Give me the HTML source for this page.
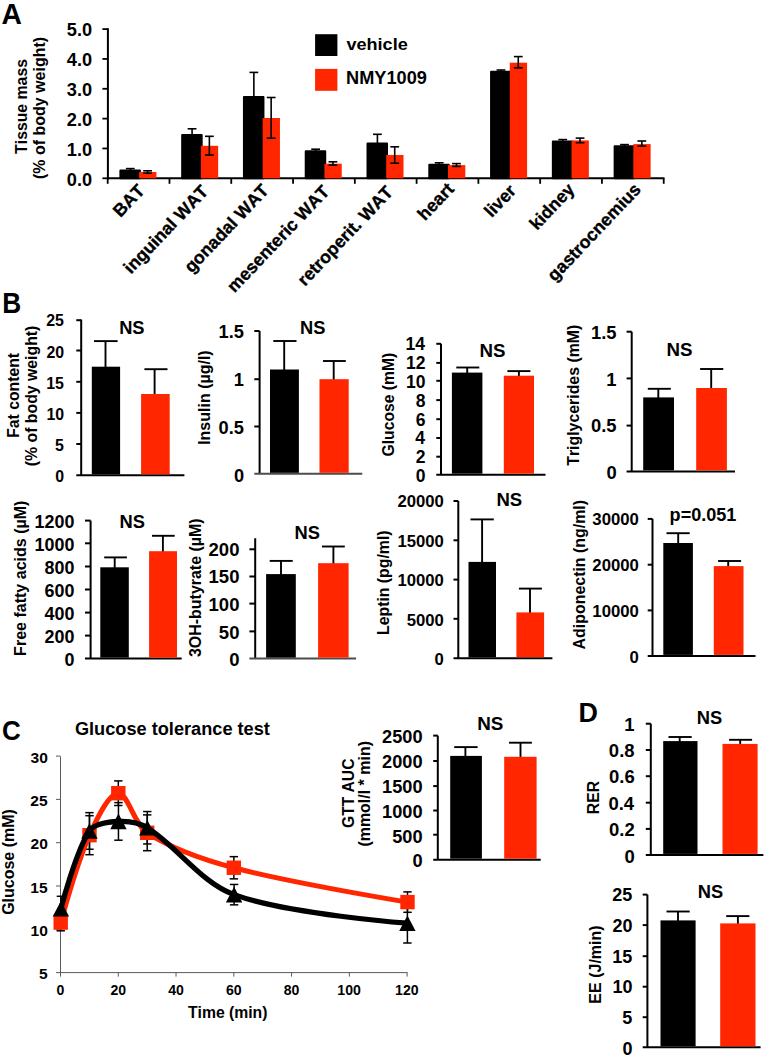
<!DOCTYPE html>
<html><head><meta charset="utf-8"><style>
html,body{margin:0;padding:0;background:#fff;}
svg{display:block;font-family:"Liberation Sans",sans-serif;font-weight:bold;font-kerning:none;}
</style></head><body>
<svg width="767" height="1059" viewBox="0 0 767 1059">
<text x="1.45" y="23.50" font-size="28.78" textLength="20.40" lengthAdjust="spacingAndGlyphs" fill="#000">A</text>
<line x1="107.90" y1="28.20" x2="107.90" y2="179.30" stroke="#000" stroke-width="2" stroke-linecap="butt"/>
<line x1="102.40" y1="178.30" x2="107.90" y2="178.30" stroke="#000" stroke-width="1.8" stroke-linecap="butt"/>
<line x1="102.40" y1="148.46" x2="107.90" y2="148.46" stroke="#000" stroke-width="1.8" stroke-linecap="butt"/>
<line x1="102.40" y1="118.62" x2="107.90" y2="118.62" stroke="#000" stroke-width="1.8" stroke-linecap="butt"/>
<line x1="102.40" y1="88.78" x2="107.90" y2="88.78" stroke="#000" stroke-width="1.8" stroke-linecap="butt"/>
<line x1="102.40" y1="58.94" x2="107.90" y2="58.94" stroke="#000" stroke-width="1.8" stroke-linecap="butt"/>
<line x1="102.40" y1="29.10" x2="107.90" y2="29.10" stroke="#000" stroke-width="1.8" stroke-linecap="butt"/>
<text x="66.84" y="35.92" font-size="18.20" fill="#000">5.0</text>
<text x="66.84" y="65.88" font-size="18.20" fill="#000">4.0</text>
<text x="66.84" y="95.82" font-size="18.20" fill="#000">3.0</text>
<text x="66.84" y="125.80" font-size="18.20" fill="#000">2.0</text>
<text x="66.84" y="155.76" font-size="18.20" fill="#000">1.0</text>
<text x="66.84" y="185.72" font-size="18.20" fill="#000">0.0</text>
<line x1="106.90" y1="178.30" x2="664.50" y2="178.30" stroke="#000" stroke-width="2" stroke-linecap="butt"/>
<line x1="107.70" y1="178.30" x2="107.70" y2="183.80" stroke="#000" stroke-width="1.8" stroke-linecap="butt"/>
<line x1="169.48" y1="178.30" x2="169.48" y2="183.80" stroke="#000" stroke-width="1.8" stroke-linecap="butt"/>
<line x1="231.26" y1="178.30" x2="231.26" y2="183.80" stroke="#000" stroke-width="1.8" stroke-linecap="butt"/>
<line x1="293.04" y1="178.30" x2="293.04" y2="183.80" stroke="#000" stroke-width="1.8" stroke-linecap="butt"/>
<line x1="354.82" y1="178.30" x2="354.82" y2="183.80" stroke="#000" stroke-width="1.8" stroke-linecap="butt"/>
<line x1="416.60" y1="178.30" x2="416.60" y2="183.80" stroke="#000" stroke-width="1.8" stroke-linecap="butt"/>
<line x1="478.38" y1="178.30" x2="478.38" y2="183.80" stroke="#000" stroke-width="1.8" stroke-linecap="butt"/>
<line x1="540.16" y1="178.30" x2="540.16" y2="183.80" stroke="#000" stroke-width="1.8" stroke-linecap="butt"/>
<line x1="601.94" y1="178.30" x2="601.94" y2="183.80" stroke="#000" stroke-width="1.8" stroke-linecap="butt"/>
<line x1="663.72" y1="178.30" x2="663.72" y2="183.80" stroke="#000" stroke-width="1.8" stroke-linecap="butt"/>
<rect x="120.39" y="170.40" width="19.50" height="7.90" fill="#000" stroke="#000" stroke-width="2" stroke-linejoin="round"/>
<line x1="130.29" y1="168.60" x2="130.29" y2="170.40" stroke="#000" stroke-width="1.6" stroke-linecap="butt"/>
<line x1="125.89" y1="168.60" x2="134.69" y2="168.60" stroke="#000" stroke-width="1.6" stroke-linecap="butt"/>
<rect x="139.09" y="172.00" width="17.30" height="6.30" fill="#ff2600"/>
<line x1="147.59" y1="170.80" x2="147.59" y2="173.20" stroke="#000" stroke-width="1.6" stroke-linecap="butt"/>
<line x1="143.19" y1="170.80" x2="151.99" y2="170.80" stroke="#000" stroke-width="1.6" stroke-linecap="butt"/>
<line x1="143.19" y1="173.20" x2="151.99" y2="173.20" stroke="#000" stroke-width="1.6" stroke-linecap="butt"/>
<rect x="182.17" y="135.10" width="19.50" height="43.20" fill="#000" stroke="#000" stroke-width="2" stroke-linejoin="round"/>
<line x1="192.07" y1="128.80" x2="192.07" y2="135.10" stroke="#000" stroke-width="1.6" stroke-linecap="butt"/>
<line x1="187.67" y1="128.80" x2="196.47" y2="128.80" stroke="#000" stroke-width="1.6" stroke-linecap="butt"/>
<rect x="200.87" y="145.80" width="17.30" height="32.50" fill="#ff2600"/>
<line x1="209.37" y1="136.30" x2="209.37" y2="155.00" stroke="#000" stroke-width="1.6" stroke-linecap="butt"/>
<line x1="204.97" y1="136.30" x2="213.77" y2="136.30" stroke="#000" stroke-width="1.6" stroke-linecap="butt"/>
<line x1="204.97" y1="155.00" x2="213.77" y2="155.00" stroke="#000" stroke-width="1.6" stroke-linecap="butt"/>
<rect x="243.95" y="96.90" width="19.50" height="81.40" fill="#000" stroke="#000" stroke-width="2" stroke-linejoin="round"/>
<line x1="253.85" y1="72.40" x2="253.85" y2="96.90" stroke="#000" stroke-width="1.6" stroke-linecap="butt"/>
<line x1="249.45" y1="72.40" x2="258.25" y2="72.40" stroke="#000" stroke-width="1.6" stroke-linecap="butt"/>
<rect x="262.65" y="118.00" width="17.30" height="60.30" fill="#ff2600"/>
<line x1="271.15" y1="97.50" x2="271.15" y2="138.20" stroke="#000" stroke-width="1.6" stroke-linecap="butt"/>
<line x1="266.75" y1="97.50" x2="275.55" y2="97.50" stroke="#000" stroke-width="1.6" stroke-linecap="butt"/>
<line x1="266.75" y1="138.20" x2="275.55" y2="138.20" stroke="#000" stroke-width="1.6" stroke-linecap="butt"/>
<rect x="305.73" y="151.30" width="19.50" height="27.00" fill="#000" stroke="#000" stroke-width="2" stroke-linejoin="round"/>
<line x1="315.63" y1="149.20" x2="315.63" y2="151.30" stroke="#000" stroke-width="1.6" stroke-linecap="butt"/>
<line x1="311.23" y1="149.20" x2="320.03" y2="149.20" stroke="#000" stroke-width="1.6" stroke-linecap="butt"/>
<rect x="324.43" y="163.70" width="17.30" height="14.60" fill="#ff2600"/>
<line x1="332.93" y1="161.80" x2="332.93" y2="165.10" stroke="#000" stroke-width="1.6" stroke-linecap="butt"/>
<line x1="328.53" y1="161.80" x2="337.33" y2="161.80" stroke="#000" stroke-width="1.6" stroke-linecap="butt"/>
<line x1="328.53" y1="165.10" x2="337.33" y2="165.10" stroke="#000" stroke-width="1.6" stroke-linecap="butt"/>
<rect x="367.51" y="143.60" width="19.50" height="34.70" fill="#000" stroke="#000" stroke-width="2" stroke-linejoin="round"/>
<line x1="377.41" y1="134.30" x2="377.41" y2="143.60" stroke="#000" stroke-width="1.6" stroke-linecap="butt"/>
<line x1="373.01" y1="134.30" x2="381.81" y2="134.30" stroke="#000" stroke-width="1.6" stroke-linecap="butt"/>
<rect x="386.21" y="155.00" width="17.30" height="23.30" fill="#ff2600"/>
<line x1="394.71" y1="146.80" x2="394.71" y2="163.20" stroke="#000" stroke-width="1.6" stroke-linecap="butt"/>
<line x1="390.31" y1="146.80" x2="399.11" y2="146.80" stroke="#000" stroke-width="1.6" stroke-linecap="butt"/>
<line x1="390.31" y1="163.20" x2="399.11" y2="163.20" stroke="#000" stroke-width="1.6" stroke-linecap="butt"/>
<rect x="429.29" y="164.70" width="19.50" height="13.60" fill="#000" stroke="#000" stroke-width="2" stroke-linejoin="round"/>
<line x1="439.19" y1="162.80" x2="439.19" y2="164.70" stroke="#000" stroke-width="1.6" stroke-linecap="butt"/>
<line x1="434.79" y1="162.80" x2="443.59" y2="162.80" stroke="#000" stroke-width="1.6" stroke-linecap="butt"/>
<rect x="447.99" y="165.10" width="17.30" height="13.20" fill="#ff2600"/>
<line x1="456.49" y1="163.60" x2="456.49" y2="166.40" stroke="#000" stroke-width="1.6" stroke-linecap="butt"/>
<line x1="452.09" y1="163.60" x2="460.89" y2="163.60" stroke="#000" stroke-width="1.6" stroke-linecap="butt"/>
<line x1="452.09" y1="166.40" x2="460.89" y2="166.40" stroke="#000" stroke-width="1.6" stroke-linecap="butt"/>
<rect x="491.07" y="71.70" width="19.50" height="106.60" fill="#000" stroke="#000" stroke-width="2" stroke-linejoin="round"/>
<line x1="500.97" y1="70.00" x2="500.97" y2="71.70" stroke="#000" stroke-width="1.6" stroke-linecap="butt"/>
<line x1="496.57" y1="70.00" x2="505.37" y2="70.00" stroke="#000" stroke-width="1.6" stroke-linecap="butt"/>
<rect x="509.77" y="62.70" width="17.30" height="115.60" fill="#ff2600"/>
<line x1="518.27" y1="56.60" x2="518.27" y2="67.80" stroke="#000" stroke-width="1.6" stroke-linecap="butt"/>
<line x1="513.87" y1="56.60" x2="522.67" y2="56.60" stroke="#000" stroke-width="1.6" stroke-linecap="butt"/>
<line x1="513.87" y1="67.80" x2="522.67" y2="67.80" stroke="#000" stroke-width="1.6" stroke-linecap="butt"/>
<rect x="552.85" y="141.40" width="19.50" height="36.90" fill="#000" stroke="#000" stroke-width="2" stroke-linejoin="round"/>
<line x1="562.75" y1="139.60" x2="562.75" y2="141.40" stroke="#000" stroke-width="1.6" stroke-linecap="butt"/>
<line x1="558.35" y1="139.60" x2="567.15" y2="139.60" stroke="#000" stroke-width="1.6" stroke-linecap="butt"/>
<rect x="571.55" y="140.40" width="17.30" height="37.90" fill="#ff2600"/>
<line x1="580.05" y1="138.10" x2="580.05" y2="142.70" stroke="#000" stroke-width="1.6" stroke-linecap="butt"/>
<line x1="575.65" y1="138.10" x2="584.45" y2="138.10" stroke="#000" stroke-width="1.6" stroke-linecap="butt"/>
<line x1="575.65" y1="142.70" x2="584.45" y2="142.70" stroke="#000" stroke-width="1.6" stroke-linecap="butt"/>
<rect x="614.63" y="146.30" width="19.50" height="32.00" fill="#000" stroke="#000" stroke-width="2" stroke-linejoin="round"/>
<line x1="624.53" y1="144.60" x2="624.53" y2="146.30" stroke="#000" stroke-width="1.6" stroke-linecap="butt"/>
<line x1="620.13" y1="144.60" x2="628.93" y2="144.60" stroke="#000" stroke-width="1.6" stroke-linecap="butt"/>
<rect x="633.33" y="144.10" width="17.30" height="34.20" fill="#ff2600"/>
<line x1="641.83" y1="141.00" x2="641.83" y2="146.10" stroke="#000" stroke-width="1.6" stroke-linecap="butt"/>
<line x1="637.43" y1="141.00" x2="646.23" y2="141.00" stroke="#000" stroke-width="1.6" stroke-linecap="butt"/>
<line x1="637.43" y1="146.10" x2="646.23" y2="146.10" stroke="#000" stroke-width="1.6" stroke-linecap="butt"/>
<rect x="315.10" y="34.20" width="22.30" height="21.80" fill="#000"/>
<rect x="315.10" y="68.90" width="22.30" height="21.90" fill="#ff2600"/>
<text x="346.43" y="49.54" font-size="16.89" textLength="61.29" lengthAdjust="spacingAndGlyphs" fill="#000">vehicle</text>
<text x="346.08" y="84.43" font-size="17.51" textLength="80.79" lengthAdjust="spacingAndGlyphs" fill="#000">NMY1009</text>
<text x="26.85" y="153.88" font-size="15.81" transform="rotate(-90 26.85 153.88)" fill="#000">Tissue mass</text>
<text x="44.65" y="179.00" font-size="15.99" transform="rotate(-90 44.65 179.00)" fill="#000">(% of body weight)</text>
<text x="145.69" y="191.60" font-size="17.8" text-anchor="end" stroke="#000" stroke-width="0.35" transform="rotate(-46.5 145.69 191.60)">BAT</text>
<text x="209.27" y="192.30" font-size="17.8" text-anchor="end" stroke="#000" stroke-width="0.35" transform="rotate(-46.5 209.27 192.30)">inguinal WAT</text>
<text x="269.85" y="191.40" font-size="17.8" text-anchor="end" stroke="#000" stroke-width="0.35" transform="rotate(-46.5 269.85 191.40)">gonadal WAT</text>
<text x="330.43" y="192.50" font-size="17.8" text-anchor="end" stroke="#000" stroke-width="0.35" transform="rotate(-46.5 330.43 192.50)">mesenteric WAT</text>
<text x="394.01" y="193.00" font-size="17.8" text-anchor="end" stroke="#000" stroke-width="0.35" transform="rotate(-46.5 394.01 193.00)">retroperit. WAT</text>
<text x="454.99" y="189.90" font-size="17.8" text-anchor="end" stroke="#000" stroke-width="0.35" transform="rotate(-46.5 454.99 189.90)">heart</text>
<text x="516.97" y="191.70" font-size="17.8" text-anchor="end" stroke="#000" stroke-width="0.35" transform="rotate(-46.5 516.97 191.70)">liver</text>
<text x="575.70" y="190.20" font-size="17.8" text-anchor="end" stroke="#000" stroke-width="0.35" transform="rotate(-46.5 575.70 190.20)">kidney</text>
<text x="641.93" y="190.40" font-size="17.8" text-anchor="end" stroke="#000" stroke-width="0.35" transform="rotate(-46.5 641.93 190.40)">gastrocnemius</text>
<text x="2.34" y="312.70" font-size="28.78" textLength="18.95" lengthAdjust="spacingAndGlyphs" fill="#000">B</text>
<line x1="81.20" y1="319.60" x2="81.20" y2="475.30" stroke="#000" stroke-width="2.0" stroke-linecap="butt"/>
<line x1="76.30" y1="320.20" x2="81.20" y2="320.20" stroke="#000" stroke-width="2.0" stroke-linecap="butt"/>
<line x1="76.30" y1="350.50" x2="81.20" y2="350.50" stroke="#000" stroke-width="2.0" stroke-linecap="butt"/>
<line x1="76.30" y1="381.80" x2="81.20" y2="381.80" stroke="#000" stroke-width="2.0" stroke-linecap="butt"/>
<line x1="76.30" y1="412.90" x2="81.20" y2="412.90" stroke="#000" stroke-width="2.0" stroke-linecap="butt"/>
<line x1="76.30" y1="444.00" x2="81.20" y2="444.00" stroke="#000" stroke-width="2.0" stroke-linecap="butt"/>
<line x1="76.30" y1="475.30" x2="184.40" y2="475.30" stroke="#000" stroke-width="2.0" stroke-linecap="butt"/>
<line x1="105.50" y1="341.10" x2="105.50" y2="367.70" stroke="#000" stroke-width="1.9" stroke-linecap="butt"/>
<line x1="94.00" y1="341.10" x2="117.60" y2="341.10" stroke="#000" stroke-width="1.9" stroke-linecap="butt"/>
<line x1="154.60" y1="369.20" x2="154.60" y2="395.00" stroke="#000" stroke-width="1.9" stroke-linecap="butt"/>
<line x1="144.40" y1="369.20" x2="167.50" y2="369.20" stroke="#000" stroke-width="1.9" stroke-linecap="butt"/>
<rect x="91.80" y="366.70" width="28.30" height="107.60" fill="#000"/>
<rect x="141.10" y="394.00" width="28.60" height="80.30" fill="#ff2600"/>
<text x="46.25" y="326.33" font-size="15.91" fill="#000">25</text>
<text x="46.46" y="357.56" font-size="15.91" fill="#000">20</text>
<text x="46.25" y="388.70" font-size="15.91" fill="#000">15</text>
<text x="46.46" y="420.02" font-size="15.91" fill="#000">10</text>
<text x="55.10" y="451.16" font-size="15.91" fill="#000">5</text>
<text x="55.31" y="482.48" font-size="15.91" fill="#000">0</text>
<text x="119.17" y="333.80" font-size="18.31" fill="#000">NS</text>
<text x="18.60" y="437.85" font-size="15.75" transform="rotate(-90 18.60 437.85)" fill="#000">Fat content</text>
<text x="36.90" y="466.19" font-size="15.82" transform="rotate(-90 36.90 466.19)" fill="#000">(% of body weight)</text>
<line x1="259.60" y1="331.00" x2="259.60" y2="473.80" stroke="#000" stroke-width="2.0" stroke-linecap="butt"/>
<line x1="254.30" y1="331.00" x2="259.60" y2="331.00" stroke="#000" stroke-width="2.0" stroke-linecap="butt"/>
<line x1="254.30" y1="379.20" x2="259.60" y2="379.20" stroke="#000" stroke-width="2.0" stroke-linecap="butt"/>
<line x1="254.30" y1="426.50" x2="259.60" y2="426.50" stroke="#000" stroke-width="2.0" stroke-linecap="butt"/>
<line x1="254.30" y1="473.80" x2="362.30" y2="473.80" stroke="#4d4d4d" stroke-width="2.0" stroke-linecap="butt"/>
<line x1="284.20" y1="341.00" x2="284.20" y2="370.50" stroke="#000" stroke-width="1.9" stroke-linecap="butt"/>
<line x1="273.30" y1="341.00" x2="296.50" y2="341.00" stroke="#000" stroke-width="1.9" stroke-linecap="butt"/>
<line x1="333.70" y1="361.00" x2="333.70" y2="380.20" stroke="#000" stroke-width="1.9" stroke-linecap="butt"/>
<line x1="323.00" y1="361.00" x2="345.80" y2="361.00" stroke="#000" stroke-width="1.9" stroke-linecap="butt"/>
<rect x="270.00" y="369.50" width="28.90" height="103.30" fill="#000"/>
<rect x="319.50" y="379.20" width="29.20" height="93.60" fill="#ff2600"/>
<text x="218.55" y="338.09" font-size="18.24" fill="#000">1.5</text>
<text x="233.76" y="385.97" font-size="18.24" fill="#000">1</text>
<text x="218.55" y="433.78" font-size="18.24" fill="#000">0.5</text>
<text x="234.00" y="481.58" font-size="18.24" fill="#000">0</text>
<text x="300.07" y="333.50" font-size="18.31" fill="#000">NS</text>
<text x="210.00" y="444.87" font-size="16.00" transform="rotate(-90 210.00 444.87)" fill="#000">Insulin (µg/l)</text>
<line x1="441.00" y1="343.80" x2="441.00" y2="474.70" stroke="#000" stroke-width="2.0" stroke-linecap="butt"/>
<line x1="436.30" y1="343.80" x2="441.00" y2="343.80" stroke="#000" stroke-width="2.0" stroke-linecap="butt"/>
<line x1="436.30" y1="362.90" x2="441.00" y2="362.90" stroke="#000" stroke-width="2.0" stroke-linecap="butt"/>
<line x1="436.30" y1="380.80" x2="441.00" y2="380.80" stroke="#000" stroke-width="2.0" stroke-linecap="butt"/>
<line x1="436.30" y1="400.10" x2="441.00" y2="400.10" stroke="#000" stroke-width="2.0" stroke-linecap="butt"/>
<line x1="436.30" y1="419.20" x2="441.00" y2="419.20" stroke="#000" stroke-width="2.0" stroke-linecap="butt"/>
<line x1="436.30" y1="438.00" x2="441.00" y2="438.00" stroke="#000" stroke-width="2.0" stroke-linecap="butt"/>
<line x1="436.30" y1="456.70" x2="441.00" y2="456.70" stroke="#000" stroke-width="2.0" stroke-linecap="butt"/>
<line x1="436.30" y1="474.70" x2="545.50" y2="474.70" stroke="#000" stroke-width="2.0" stroke-linecap="butt"/>
<line x1="467.20" y1="367.50" x2="467.20" y2="373.60" stroke="#000" stroke-width="1.9" stroke-linecap="butt"/>
<line x1="456.30" y1="367.50" x2="479.30" y2="367.50" stroke="#000" stroke-width="1.9" stroke-linecap="butt"/>
<line x1="518.90" y1="371.10" x2="518.90" y2="376.70" stroke="#000" stroke-width="1.9" stroke-linecap="butt"/>
<line x1="507.40" y1="371.10" x2="530.40" y2="371.10" stroke="#000" stroke-width="1.9" stroke-linecap="butt"/>
<rect x="451.90" y="372.60" width="30.50" height="101.10" fill="#000"/>
<rect x="503.80" y="375.70" width="30.20" height="98.00" fill="#ff2600"/>
<text x="405.50" y="350.38" font-size="17.53" fill="#000">14</text>
<text x="406.10" y="369.29" font-size="17.53" fill="#000">12</text>
<text x="406.12" y="388.03" font-size="17.53" fill="#000">10</text>
<text x="415.69" y="406.85" font-size="17.53" fill="#000">8</text>
<text x="415.78" y="425.67" font-size="17.53" fill="#000">6</text>
<text x="415.24" y="444.49" font-size="17.53" fill="#000">4</text>
<text x="415.85" y="463.40" font-size="17.53" fill="#000">2</text>
<text x="415.87" y="482.13" font-size="17.53" fill="#000">0</text>
<text x="479.55" y="356.64" font-size="18.70" fill="#000">NS</text>
<text x="393.90" y="456.44" font-size="15.70" transform="rotate(-90 393.90 456.44)" fill="#000">Glucose (mM)</text>
<line x1="631.70" y1="331.70" x2="631.70" y2="471.40" stroke="#000" stroke-width="2.0" stroke-linecap="butt"/>
<line x1="626.60" y1="331.70" x2="631.70" y2="331.70" stroke="#000" stroke-width="2.0" stroke-linecap="butt"/>
<line x1="626.60" y1="378.40" x2="631.70" y2="378.40" stroke="#000" stroke-width="2.0" stroke-linecap="butt"/>
<line x1="626.60" y1="425.60" x2="631.70" y2="425.60" stroke="#000" stroke-width="2.0" stroke-linecap="butt"/>
<line x1="626.60" y1="471.40" x2="735.00" y2="471.40" stroke="#000" stroke-width="2.0" stroke-linecap="butt"/>
<line x1="658.30" y1="388.80" x2="658.30" y2="398.40" stroke="#000" stroke-width="1.9" stroke-linecap="butt"/>
<line x1="647.80" y1="388.80" x2="670.80" y2="388.80" stroke="#000" stroke-width="1.9" stroke-linecap="butt"/>
<line x1="711.20" y1="369.00" x2="711.20" y2="389.00" stroke="#000" stroke-width="1.9" stroke-linecap="butt"/>
<line x1="700.10" y1="369.00" x2="723.30" y2="369.00" stroke="#000" stroke-width="1.9" stroke-linecap="butt"/>
<rect x="643.20" y="397.40" width="30.80" height="73.00" fill="#000"/>
<rect x="696.20" y="388.00" width="30.70" height="82.40" fill="#ff2600"/>
<text x="590.94" y="338.74" font-size="18.39" fill="#000">1.5</text>
<text x="606.28" y="385.59" font-size="18.39" fill="#000">1</text>
<text x="590.94" y="432.37" font-size="18.39" fill="#000">0.5</text>
<text x="606.52" y="479.13" font-size="18.39" fill="#000">0</text>
<text x="666.60" y="355.99" font-size="18.70" fill="#000">NS</text>
<text x="579.20" y="465.78" font-size="15.88" transform="rotate(-90 579.20 465.78)" fill="#000">Triglycerides (mM)</text>
<line x1="90.60" y1="520.60" x2="90.60" y2="658.60" stroke="#000" stroke-width="2.0" stroke-linecap="butt"/>
<line x1="85.00" y1="520.60" x2="90.60" y2="520.60" stroke="#000" stroke-width="2.0" stroke-linecap="butt"/>
<line x1="85.00" y1="543.30" x2="90.60" y2="543.30" stroke="#000" stroke-width="2.0" stroke-linecap="butt"/>
<line x1="85.00" y1="566.50" x2="90.60" y2="566.50" stroke="#000" stroke-width="2.0" stroke-linecap="butt"/>
<line x1="85.00" y1="589.50" x2="90.60" y2="589.50" stroke="#000" stroke-width="2.0" stroke-linecap="butt"/>
<line x1="85.00" y1="612.60" x2="90.60" y2="612.60" stroke="#000" stroke-width="2.0" stroke-linecap="butt"/>
<line x1="85.00" y1="635.60" x2="90.60" y2="635.60" stroke="#000" stroke-width="2.0" stroke-linecap="butt"/>
<line x1="85.00" y1="658.60" x2="181.70" y2="658.60" stroke="#000" stroke-width="2.0" stroke-linecap="butt"/>
<line x1="114.70" y1="557.40" x2="114.70" y2="568.30" stroke="#000" stroke-width="1.9" stroke-linecap="butt"/>
<line x1="104.20" y1="557.40" x2="126.90" y2="557.40" stroke="#000" stroke-width="1.9" stroke-linecap="butt"/>
<line x1="162.90" y1="535.80" x2="162.90" y2="552.20" stroke="#000" stroke-width="1.9" stroke-linecap="butt"/>
<line x1="152.00" y1="535.80" x2="174.70" y2="535.80" stroke="#000" stroke-width="1.9" stroke-linecap="butt"/>
<rect x="100.30" y="567.30" width="28.50" height="90.30" fill="#000"/>
<rect x="149.10" y="551.20" width="27.90" height="106.40" fill="#ff2600"/>
<text x="34.57" y="527.57" font-size="17.92" fill="#000">1200</text>
<text x="34.57" y="550.67" font-size="17.92" fill="#000">1000</text>
<text x="44.54" y="573.77" font-size="17.92" fill="#000">800</text>
<text x="44.54" y="596.87" font-size="17.92" fill="#000">600</text>
<text x="44.54" y="619.97" font-size="17.92" fill="#000">400</text>
<text x="44.54" y="643.07" font-size="17.92" fill="#000">200</text>
<text x="64.47" y="666.17" font-size="17.92" fill="#000">0</text>
<text x="119.57" y="527.80" font-size="18.31" fill="#000">NS</text>
<text x="25.60" y="655.87" font-size="16.04" transform="rotate(-90 25.60 655.87)" fill="#000">Free fatty acids (µM)</text>
<line x1="255.20" y1="538.20" x2="255.20" y2="658.60" stroke="#000" stroke-width="2.0" stroke-linecap="butt"/>
<line x1="249.40" y1="549.30" x2="255.20" y2="549.30" stroke="#000" stroke-width="2.0" stroke-linecap="butt"/>
<line x1="249.40" y1="576.50" x2="255.20" y2="576.50" stroke="#000" stroke-width="2.0" stroke-linecap="butt"/>
<line x1="249.40" y1="603.60" x2="255.20" y2="603.60" stroke="#000" stroke-width="2.0" stroke-linecap="butt"/>
<line x1="249.40" y1="631.40" x2="255.20" y2="631.40" stroke="#000" stroke-width="2.0" stroke-linecap="butt"/>
<line x1="249.40" y1="658.60" x2="356.10" y2="658.60" stroke="#4d4d4d" stroke-width="2.0" stroke-linecap="butt"/>
<line x1="281.00" y1="560.90" x2="281.00" y2="575.10" stroke="#000" stroke-width="1.9" stroke-linecap="butt"/>
<line x1="269.70" y1="560.90" x2="292.70" y2="560.90" stroke="#000" stroke-width="1.9" stroke-linecap="butt"/>
<line x1="333.40" y1="546.50" x2="333.40" y2="564.20" stroke="#000" stroke-width="1.9" stroke-linecap="butt"/>
<line x1="322.00" y1="546.50" x2="344.80" y2="546.50" stroke="#000" stroke-width="1.9" stroke-linecap="butt"/>
<rect x="266.10" y="574.10" width="29.70" height="83.50" fill="#000"/>
<rect x="318.10" y="563.20" width="30.50" height="94.40" fill="#ff2600"/>
<text x="208.56" y="555.63" font-size="18.52" fill="#000">200</text>
<text x="208.56" y="583.31" font-size="18.52" fill="#000">150</text>
<text x="208.56" y="611.00" font-size="18.52" fill="#000">100</text>
<text x="218.86" y="638.69" font-size="18.52" fill="#000">50</text>
<text x="229.16" y="666.38" font-size="18.52" fill="#000">0</text>
<text x="294.57" y="538.75" font-size="18.31" fill="#000">NS</text>
<text x="200.98" y="657.07" font-size="15.97" transform="rotate(-90 200.98 657.07)" fill="#000">3OH-butyrate (µM)</text>
<line x1="458.30" y1="501.00" x2="458.30" y2="658.30" stroke="#000" stroke-width="2.0" stroke-linecap="butt"/>
<line x1="453.50" y1="501.00" x2="458.30" y2="501.00" stroke="#000" stroke-width="2.0" stroke-linecap="butt"/>
<line x1="453.50" y1="540.30" x2="458.30" y2="540.30" stroke="#000" stroke-width="2.0" stroke-linecap="butt"/>
<line x1="453.50" y1="579.60" x2="458.30" y2="579.60" stroke="#000" stroke-width="2.0" stroke-linecap="butt"/>
<line x1="453.50" y1="618.80" x2="458.30" y2="618.80" stroke="#000" stroke-width="2.0" stroke-linecap="butt"/>
<line x1="453.50" y1="658.30" x2="552.40" y2="658.30" stroke="#000" stroke-width="2.0" stroke-linecap="butt"/>
<line x1="482.10" y1="519.40" x2="482.10" y2="562.90" stroke="#000" stroke-width="1.9" stroke-linecap="butt"/>
<line x1="470.50" y1="519.40" x2="493.80" y2="519.40" stroke="#000" stroke-width="1.9" stroke-linecap="butt"/>
<line x1="530.00" y1="588.60" x2="530.00" y2="613.40" stroke="#000" stroke-width="1.9" stroke-linecap="butt"/>
<line x1="518.90" y1="588.60" x2="541.90" y2="588.60" stroke="#000" stroke-width="1.9" stroke-linecap="butt"/>
<rect x="468.50" y="561.90" width="27.50" height="95.40" fill="#000"/>
<rect x="516.40" y="612.40" width="27.70" height="44.90" fill="#ff2600"/>
<text x="397.42" y="507.15" font-size="16.71" fill="#000">20000</text>
<text x="397.42" y="546.73" font-size="16.71" fill="#000">15000</text>
<text x="397.42" y="586.30" font-size="16.71" fill="#000">10000</text>
<text x="406.71" y="625.88" font-size="16.71" fill="#000">5000</text>
<text x="434.59" y="665.45" font-size="16.71" fill="#000">0</text>
<text x="496.46" y="506.43" font-size="18.55" fill="#000">NS</text>
<text x="389.20" y="634.96" font-size="15.82" transform="rotate(-90 389.20 634.96)" fill="#000">Leptin (pg/ml)</text>
<line x1="652.50" y1="518.90" x2="652.50" y2="655.90" stroke="#000" stroke-width="2.0" stroke-linecap="butt"/>
<line x1="647.70" y1="518.90" x2="652.50" y2="518.90" stroke="#000" stroke-width="2.0" stroke-linecap="butt"/>
<line x1="647.70" y1="564.70" x2="652.50" y2="564.70" stroke="#000" stroke-width="2.0" stroke-linecap="butt"/>
<line x1="647.70" y1="610.40" x2="652.50" y2="610.40" stroke="#000" stroke-width="2.0" stroke-linecap="butt"/>
<line x1="647.70" y1="655.90" x2="755.50" y2="655.90" stroke="#000" stroke-width="2.0" stroke-linecap="butt"/>
<line x1="678.20" y1="533.20" x2="678.20" y2="544.00" stroke="#000" stroke-width="1.9" stroke-linecap="butt"/>
<line x1="666.50" y1="533.20" x2="689.70" y2="533.20" stroke="#000" stroke-width="1.9" stroke-linecap="butt"/>
<line x1="728.20" y1="561.00" x2="728.20" y2="567.10" stroke="#000" stroke-width="1.9" stroke-linecap="butt"/>
<line x1="718.10" y1="561.00" x2="741.10" y2="561.00" stroke="#000" stroke-width="1.9" stroke-linecap="butt"/>
<rect x="663.30" y="543.00" width="29.60" height="111.90" fill="#000"/>
<rect x="713.80" y="566.10" width="29.70" height="88.80" fill="#ff2600"/>
<text x="592.32" y="525.05" font-size="16.75" fill="#000">30000</text>
<text x="592.32" y="571.07" font-size="16.75" fill="#000">20000</text>
<text x="592.32" y="617.07" font-size="16.75" fill="#000">10000</text>
<text x="629.57" y="663.07" font-size="16.75" fill="#000">0</text>
<text x="669.61" y="520.70" font-size="18.07" fill="#000">p=0.051</text>
<text x="585.00" y="649.40" font-size="15.93" transform="rotate(-90 585.00 649.40)" fill="#000">Adiponectin (ng/ml)</text>
<text x="2.03" y="739.73" font-size="28.11" textLength="18.78" lengthAdjust="spacingAndGlyphs" fill="#000">C</text>
<text x="74.95" y="734.50" font-size="18.18" fill="#000">Glucose tolerance test</text>
<line x1="60.50" y1="756.50" x2="60.50" y2="976.60" stroke="#595959" stroke-width="1" stroke-linecap="butt"/>
<line x1="56.00" y1="972.60" x2="407.60" y2="972.60" stroke="#595959" stroke-width="1" stroke-linecap="butt"/>
<line x1="56.00" y1="929.30" x2="60.50" y2="929.30" stroke="#595959" stroke-width="1" stroke-linecap="butt"/>
<line x1="56.00" y1="886.00" x2="60.50" y2="886.00" stroke="#595959" stroke-width="1" stroke-linecap="butt"/>
<line x1="56.00" y1="842.70" x2="60.50" y2="842.70" stroke="#595959" stroke-width="1" stroke-linecap="butt"/>
<line x1="56.00" y1="799.40" x2="60.50" y2="799.40" stroke="#595959" stroke-width="1" stroke-linecap="butt"/>
<line x1="56.00" y1="756.10" x2="60.50" y2="756.10" stroke="#595959" stroke-width="1" stroke-linecap="butt"/>
<line x1="118.27" y1="972.60" x2="118.27" y2="976.60" stroke="#595959" stroke-width="1" stroke-linecap="butt"/>
<line x1="176.03" y1="972.60" x2="176.03" y2="976.60" stroke="#595959" stroke-width="1" stroke-linecap="butt"/>
<line x1="233.80" y1="972.60" x2="233.80" y2="976.60" stroke="#595959" stroke-width="1" stroke-linecap="butt"/>
<line x1="291.56" y1="972.60" x2="291.56" y2="976.60" stroke="#595959" stroke-width="1" stroke-linecap="butt"/>
<line x1="349.33" y1="972.60" x2="349.33" y2="976.60" stroke="#595959" stroke-width="1" stroke-linecap="butt"/>
<line x1="407.10" y1="972.60" x2="407.10" y2="976.60" stroke="#595959" stroke-width="1" stroke-linecap="butt"/>
<text x="30.54" y="762.59" font-size="15.55" fill="#000">30</text>
<text x="30.34" y="805.95" font-size="15.55" fill="#000">25</text>
<text x="30.54" y="849.30" font-size="15.55" fill="#000">20</text>
<text x="30.34" y="892.57" font-size="15.55" fill="#000">15</text>
<text x="30.54" y="936.00" font-size="15.55" fill="#000">10</text>
<text x="38.99" y="979.27" font-size="15.55" fill="#000">5</text>
<text x="56.49" y="994.75" font-size="14.08" fill="#000">0</text>
<text x="110.38" y="994.75" font-size="14.08" fill="#000">20</text>
<text x="168.28" y="994.75" font-size="14.08" fill="#000">40</text>
<text x="225.90" y="994.75" font-size="14.08" fill="#000">60</text>
<text x="283.70" y="994.75" font-size="14.08" fill="#000">80</text>
<text x="337.33" y="994.75" font-size="14.08" fill="#000">100</text>
<text x="395.09" y="994.75" font-size="14.08" fill="#000">120</text>
<text x="187.92" y="1017.60" font-size="15.74" fill="#000">Time (min)</text>
<text x="14.50" y="914.86" font-size="16.01" transform="rotate(-90 14.50 914.86)" fill="#000">Glucose (mM)</text>
<line x1="60.70" y1="914.40" x2="60.70" y2="930.80" stroke="#000" stroke-width="1.5" stroke-linecap="butt"/>
<line x1="56.50" y1="914.40" x2="64.90" y2="914.40" stroke="#000" stroke-width="1.5" stroke-linecap="butt"/>
<line x1="56.50" y1="930.80" x2="64.90" y2="930.80" stroke="#000" stroke-width="1.5" stroke-linecap="butt"/>
<line x1="89.50" y1="815.70" x2="89.50" y2="854.70" stroke="#000" stroke-width="1.5" stroke-linecap="butt"/>
<line x1="85.30" y1="815.70" x2="93.70" y2="815.70" stroke="#000" stroke-width="1.5" stroke-linecap="butt"/>
<line x1="85.30" y1="854.70" x2="93.70" y2="854.70" stroke="#000" stroke-width="1.5" stroke-linecap="butt"/>
<line x1="118.30" y1="780.90" x2="118.30" y2="805.50" stroke="#000" stroke-width="1.5" stroke-linecap="butt"/>
<line x1="114.10" y1="780.90" x2="122.50" y2="780.90" stroke="#000" stroke-width="1.5" stroke-linecap="butt"/>
<line x1="114.10" y1="805.50" x2="122.50" y2="805.50" stroke="#000" stroke-width="1.5" stroke-linecap="butt"/>
<line x1="147.20" y1="814.90" x2="147.20" y2="850.70" stroke="#000" stroke-width="1.5" stroke-linecap="butt"/>
<line x1="143.00" y1="814.90" x2="151.40" y2="814.90" stroke="#000" stroke-width="1.5" stroke-linecap="butt"/>
<line x1="143.00" y1="850.70" x2="151.40" y2="850.70" stroke="#000" stroke-width="1.5" stroke-linecap="butt"/>
<line x1="233.85" y1="856.65" x2="233.85" y2="878.85" stroke="#000" stroke-width="1.5" stroke-linecap="butt"/>
<line x1="229.65" y1="856.65" x2="238.05" y2="856.65" stroke="#000" stroke-width="1.5" stroke-linecap="butt"/>
<line x1="229.65" y1="878.85" x2="238.05" y2="878.85" stroke="#000" stroke-width="1.5" stroke-linecap="butt"/>
<line x1="407.50" y1="891.90" x2="407.50" y2="912.30" stroke="#000" stroke-width="1.5" stroke-linecap="butt"/>
<line x1="403.30" y1="891.90" x2="411.70" y2="891.90" stroke="#000" stroke-width="1.5" stroke-linecap="butt"/>
<line x1="403.30" y1="912.30" x2="411.70" y2="912.30" stroke="#000" stroke-width="1.5" stroke-linecap="butt"/>
<line x1="60.90" y1="896.30" x2="60.90" y2="921.30" stroke="#000" stroke-width="1.5" stroke-linecap="butt"/>
<line x1="56.70" y1="896.30" x2="65.10" y2="896.30" stroke="#000" stroke-width="1.5" stroke-linecap="butt"/>
<line x1="56.70" y1="921.30" x2="65.10" y2="921.30" stroke="#000" stroke-width="1.5" stroke-linecap="butt"/>
<line x1="89.45" y1="812.65" x2="89.45" y2="849.25" stroke="#000" stroke-width="1.5" stroke-linecap="butt"/>
<line x1="85.25" y1="812.65" x2="93.65" y2="812.65" stroke="#000" stroke-width="1.5" stroke-linecap="butt"/>
<line x1="85.25" y1="849.25" x2="93.65" y2="849.25" stroke="#000" stroke-width="1.5" stroke-linecap="butt"/>
<line x1="118.45" y1="802.60" x2="118.45" y2="840.20" stroke="#000" stroke-width="1.5" stroke-linecap="butt"/>
<line x1="114.25" y1="802.60" x2="122.65" y2="802.60" stroke="#000" stroke-width="1.5" stroke-linecap="butt"/>
<line x1="114.25" y1="840.20" x2="122.65" y2="840.20" stroke="#000" stroke-width="1.5" stroke-linecap="butt"/>
<line x1="147.30" y1="811.55" x2="147.30" y2="843.95" stroke="#000" stroke-width="1.5" stroke-linecap="butt"/>
<line x1="143.10" y1="811.55" x2="151.50" y2="811.55" stroke="#000" stroke-width="1.5" stroke-linecap="butt"/>
<line x1="143.10" y1="843.95" x2="151.50" y2="843.95" stroke="#000" stroke-width="1.5" stroke-linecap="butt"/>
<line x1="234.10" y1="884.45" x2="234.10" y2="904.85" stroke="#000" stroke-width="1.5" stroke-linecap="butt"/>
<line x1="229.90" y1="884.45" x2="238.30" y2="884.45" stroke="#000" stroke-width="1.5" stroke-linecap="butt"/>
<line x1="229.90" y1="904.85" x2="238.30" y2="904.85" stroke="#000" stroke-width="1.5" stroke-linecap="butt"/>
<line x1="407.40" y1="903.40" x2="407.40" y2="943.00" stroke="#000" stroke-width="1.5" stroke-linecap="butt"/>
<line x1="403.20" y1="903.40" x2="411.60" y2="903.40" stroke="#000" stroke-width="1.5" stroke-linecap="butt"/>
<line x1="403.20" y1="943.00" x2="411.60" y2="943.00" stroke="#000" stroke-width="1.5" stroke-linecap="butt"/>
<path d="M60.70,922.60 C60.70,922.60 77.14,862.97 89.50,835.20 C96.34,819.83 108.50,793.61 118.30,793.20 C127.73,792.81 133.95,824.25 147.20,832.80 C172.46,849.10 203.87,859.77 233.85,867.75 C290.64,882.87 407.50,902.10 407.50,902.10" fill="none" stroke="#ff2600" stroke-width="5.0" stroke-linejoin="round"/>
<rect x="53.50" y="915.40" width="14.40" height="14.40" fill="#ff2600"/>
<rect x="82.30" y="828.00" width="14.40" height="14.40" fill="#ff2600"/>
<rect x="111.10" y="786.00" width="14.40" height="14.40" fill="#ff2600"/>
<rect x="140.00" y="825.60" width="14.40" height="14.40" fill="#ff2600"/>
<rect x="226.65" y="860.55" width="14.40" height="14.40" fill="#ff2600"/>
<rect x="400.30" y="894.90" width="14.40" height="14.40" fill="#ff2600"/>
<path d="M60.90,908.80 C60.90,908.80 75.43,852.24 89.45,830.95 C94.61,823.11 108.65,821.94 118.45,821.40 C127.93,820.88 139.11,822.57 147.30,827.75 C177.66,846.98 200.79,882.43 234.10,894.65 C287.49,914.24 407.40,923.20 407.40,923.20" fill="none" stroke="#000" stroke-width="5.2" stroke-linejoin="round"/>
<path d="M52.70,916.60 L60.90,901.00 L69.10,916.60 Z" fill="#000"/>
<path d="M81.25,838.75 L89.45,823.15 L97.65,838.75 Z" fill="#000"/>
<path d="M110.25,829.20 L118.45,813.60 L126.65,829.20 Z" fill="#000"/>
<path d="M139.10,835.55 L147.30,819.95 L155.50,835.55 Z" fill="#000"/>
<path d="M225.90,902.45 L234.10,886.85 L242.30,902.45 Z" fill="#000"/>
<path d="M399.20,931.00 L407.40,915.40 L415.60,931.00 Z" fill="#000"/>
<line x1="437.80" y1="735.60" x2="437.80" y2="859.70" stroke="#000" stroke-width="2.0" stroke-linecap="butt"/>
<line x1="433.20" y1="735.60" x2="437.80" y2="735.60" stroke="#000" stroke-width="2.0" stroke-linecap="butt"/>
<line x1="433.20" y1="761.00" x2="437.80" y2="761.00" stroke="#000" stroke-width="2.0" stroke-linecap="butt"/>
<line x1="433.20" y1="786.10" x2="437.80" y2="786.10" stroke="#000" stroke-width="2.0" stroke-linecap="butt"/>
<line x1="433.20" y1="810.50" x2="437.80" y2="810.50" stroke="#000" stroke-width="2.0" stroke-linecap="butt"/>
<line x1="433.20" y1="834.70" x2="437.80" y2="834.70" stroke="#000" stroke-width="2.0" stroke-linecap="butt"/>
<line x1="433.20" y1="859.70" x2="540.70" y2="859.70" stroke="#000" stroke-width="2.0" stroke-linecap="butt"/>
<line x1="465.40" y1="747.10" x2="465.40" y2="756.90" stroke="#000" stroke-width="1.9" stroke-linecap="butt"/>
<line x1="454.20" y1="747.10" x2="477.60" y2="747.10" stroke="#000" stroke-width="1.9" stroke-linecap="butt"/>
<line x1="520.50" y1="742.70" x2="520.50" y2="757.80" stroke="#000" stroke-width="1.9" stroke-linecap="butt"/>
<line x1="509.00" y1="742.70" x2="531.90" y2="742.70" stroke="#000" stroke-width="1.9" stroke-linecap="butt"/>
<rect x="450.20" y="755.90" width="31.70" height="102.80" fill="#000"/>
<rect x="504.20" y="756.80" width="32.40" height="101.90" fill="#ff2600"/>
<text x="382.07" y="743.21" font-size="18.20" fill="#000">2500</text>
<text x="382.07" y="768.04" font-size="18.20" fill="#000">2000</text>
<text x="382.07" y="792.87" font-size="18.20" fill="#000">1500</text>
<text x="382.07" y="817.70" font-size="18.20" fill="#000">1000</text>
<text x="392.19" y="842.53" font-size="18.20" fill="#000">500</text>
<text x="412.43" y="867.36" font-size="18.20" fill="#000">0</text>
<text x="477.24" y="730.19" font-size="18.86" fill="#000">NS</text>
<text x="354.40" y="827.94" font-size="15.61" transform="rotate(-90 354.40 827.94)" fill="#000">GTT AUC</text>
<text x="369.63" y="846.60" font-size="15.97" transform="rotate(-90 369.63 846.60)" fill="#000">(mmol/l * min)</text>
<text x="578.40" y="721.50" font-size="28.49" textLength="19.43" lengthAdjust="spacingAndGlyphs" fill="#000">D</text>
<line x1="650.80" y1="723.70" x2="650.80" y2="854.90" stroke="#000" stroke-width="2.0" stroke-linecap="butt"/>
<line x1="645.80" y1="723.70" x2="650.80" y2="723.70" stroke="#000" stroke-width="2.0" stroke-linecap="butt"/>
<line x1="645.80" y1="750.00" x2="650.80" y2="750.00" stroke="#000" stroke-width="2.0" stroke-linecap="butt"/>
<line x1="645.80" y1="776.20" x2="650.80" y2="776.20" stroke="#000" stroke-width="2.0" stroke-linecap="butt"/>
<line x1="645.80" y1="802.70" x2="650.80" y2="802.70" stroke="#000" stroke-width="2.0" stroke-linecap="butt"/>
<line x1="645.80" y1="828.90" x2="650.80" y2="828.90" stroke="#000" stroke-width="2.0" stroke-linecap="butt"/>
<line x1="645.80" y1="854.90" x2="763.40" y2="854.90" stroke="#000" stroke-width="2.0" stroke-linecap="butt"/>
<line x1="679.70" y1="737.00" x2="679.70" y2="742.10" stroke="#000" stroke-width="1.9" stroke-linecap="butt"/>
<line x1="668.50" y1="737.00" x2="691.70" y2="737.00" stroke="#000" stroke-width="1.9" stroke-linecap="butt"/>
<line x1="740.20" y1="739.80" x2="740.20" y2="744.90" stroke="#000" stroke-width="1.9" stroke-linecap="butt"/>
<line x1="729.10" y1="739.80" x2="752.10" y2="739.80" stroke="#000" stroke-width="1.9" stroke-linecap="butt"/>
<rect x="663.20" y="741.10" width="34.30" height="112.80" fill="#000"/>
<rect x="722.50" y="743.90" width="35.10" height="110.00" fill="#ff2600"/>
<text x="624.23" y="730.51" font-size="18.49" fill="#000">1</text>
<text x="608.87" y="756.94" font-size="18.49" fill="#000">0.8</text>
<text x="608.97" y="783.37" font-size="18.49" fill="#000">0.6</text>
<text x="608.40" y="809.80" font-size="18.49" fill="#000">0.4</text>
<text x="609.04" y="836.23" font-size="18.49" fill="#000">0.2</text>
<text x="624.48" y="862.66" font-size="18.49" fill="#000">0</text>
<text x="696.77" y="724.35" font-size="18.31" fill="#000">NS</text>
<text x="599.00" y="814.15" font-size="15.76" transform="rotate(-90 599.00 814.15)" fill="#000">RER</text>
<line x1="647.40" y1="894.60" x2="647.40" y2="1047.30" stroke="#000" stroke-width="2.0" stroke-linecap="butt"/>
<line x1="642.70" y1="894.60" x2="647.40" y2="894.60" stroke="#000" stroke-width="2.0" stroke-linecap="butt"/>
<line x1="642.70" y1="925.10" x2="647.40" y2="925.10" stroke="#000" stroke-width="2.0" stroke-linecap="butt"/>
<line x1="642.70" y1="956.20" x2="647.40" y2="956.20" stroke="#000" stroke-width="2.0" stroke-linecap="butt"/>
<line x1="642.70" y1="986.70" x2="647.40" y2="986.70" stroke="#000" stroke-width="2.0" stroke-linecap="butt"/>
<line x1="642.70" y1="1017.20" x2="647.40" y2="1017.20" stroke="#000" stroke-width="2.0" stroke-linecap="butt"/>
<line x1="642.70" y1="1047.30" x2="760.60" y2="1047.30" stroke="#000" stroke-width="2.0" stroke-linecap="butt"/>
<line x1="678.00" y1="911.50" x2="678.00" y2="921.40" stroke="#000" stroke-width="1.9" stroke-linecap="butt"/>
<line x1="666.50" y1="911.50" x2="689.70" y2="911.50" stroke="#000" stroke-width="1.9" stroke-linecap="butt"/>
<line x1="737.90" y1="916.10" x2="737.90" y2="924.40" stroke="#000" stroke-width="1.9" stroke-linecap="butt"/>
<line x1="726.20" y1="916.10" x2="749.40" y2="916.10" stroke="#000" stroke-width="1.9" stroke-linecap="butt"/>
<rect x="660.50" y="920.40" width="35.10" height="125.90" fill="#000"/>
<rect x="720.20" y="923.40" width="35.30" height="122.90" fill="#ff2600"/>
<text x="612.28" y="901.10" font-size="18.00" fill="#000">25</text>
<text x="612.51" y="931.86" font-size="18.00" fill="#000">20</text>
<text x="612.28" y="962.53" font-size="18.00" fill="#000">15</text>
<text x="612.51" y="993.38" font-size="18.00" fill="#000">10</text>
<text x="622.29" y="1024.05" font-size="18.00" fill="#000">5</text>
<text x="622.53" y="1054.90" font-size="18.00" fill="#000">0</text>
<text x="697.82" y="898.10" font-size="18.31" fill="#000">NS</text>
<text x="600.54" y="1003.67" font-size="16.03" transform="rotate(-90 600.54 1003.67)" fill="#000">EE (J/min)</text>
</svg>
</body></html>
